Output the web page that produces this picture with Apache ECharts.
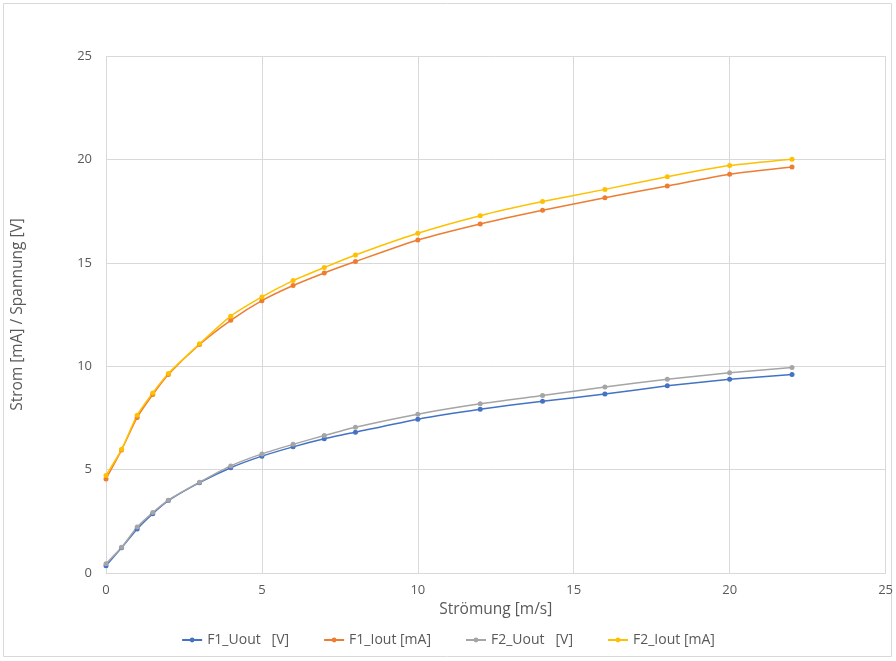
<!DOCTYPE html>
<html>
<head>
<meta charset="utf-8">
<script src="https://cdn.jsdelivr.net/npm/echarts@6/dist/echarts.min.js"></script>
<style>html,body{margin:0;padding:0;background:#fff}#c{width:896px;height:661px}</style>
</head>
<body>
<div id="c"></div>
<script>
const xValues = [0, 0.5, 1, 1.5, 2, 3, 4, 5, 6, 7, 8, 10, 12, 14, 16, 18, 20, 22];
const F1_Uout = [0.35, 1.22, 2.13, 2.87, 3.5, 4.37, 5.09, 5.65, 6.1, 6.49, 6.81, 7.44, 7.92, 8.31, 8.65, 9.05, 9.37, 9.6];
const F1_Iout = [4.55, 5.95, 7.52, 8.63, 9.6, 11.05, 12.22, 13.17, 13.9, 14.51, 15.06, 16.1, 16.88, 17.54, 18.15, 18.71, 19.28, 19.63];
const F2_Uout = [0.45, 1.24, 2.22, 2.92, 3.52, 4.39, 5.18, 5.76, 6.22, 6.65, 7.05, 7.68, 8.18, 8.58, 8.99, 9.37, 9.68, 9.94];
const F2_Iout = [4.72, 5.98, 7.63, 8.71, 9.65, 11.08, 12.42, 13.35, 14.14, 14.77, 15.38, 16.43, 17.28, 17.96, 18.55, 19.16, 19.7, 20.01];
const seriesNames = ['F1_Uout   [V]', 'F1_Iout [mA]', 'F2_Uout   [V]', 'F2_Iout [mA]'];
const seriesData = [F1_Uout, F1_Iout, F2_Uout, F2_Iout];
const colors = ['#4472C4', '#ED7D31', '#A5A5A5', '#FFC000'];

const chart = echarts.init(document.getElementById('c'));
const font = '"Open Sans", "Noto Sans", sans-serif';
chart.setOption({
  animation: false,
  color: colors,
  graphic: [{
    type: 'rect', shape: {x: 3.5, y: 3.5, width: 888, height: 653},
    style: {fill: 'none', stroke: '#d9d9d9', lineWidth: 1}, silent: true
  }],
  grid: {left: 106, right: 10, top: 56, bottom: 88, containLabel: false},
  legend: {
    top: 628, left: 'center', itemGap: 34, itemWidth: 20, itemHeight: 6,
    textStyle: {color: '#595959', fontSize: 14, fontFamily: font},
    data: seriesNames
  },
  xAxis: {
    type: 'value', min: 0, max: 25, interval: 5,
    name: 'Strömung [m/s]', nameLocation: 'middle', nameGap: 24,
    nameTextStyle: {color: '#595959', fontSize: 15.5, fontFamily: font},
    axisLine: {show: true, lineStyle: {color: '#d9d9d9'}},
    axisTick: {show: false},
    axisLabel: {color: '#595959', fontSize: 13, fontFamily: font, margin: 11},
    splitLine: {show: true, lineStyle: {color: '#d9d9d9'}}
  },
  yAxis: {
    type: 'value', min: 0, max: 25, interval: 5,
    name: 'Strom [mA] / Spannung [V]', nameLocation: 'middle', nameGap: 80,
    nameTextStyle: {color: '#595959', fontSize: 15.5, fontFamily: font},
    axisLine: {show: false}, axisTick: {show: false},
    axisLabel: {color: '#595959', fontSize: 13, fontFamily: font, margin: 14},
    splitLine: {show: true, lineStyle: {color: '#d9d9d9'}}
  },
  series: seriesNames.map((n, i) => ({
    name: n, type: 'line', smooth: 0.2,
    data: xValues.map((x, j) => [x, seriesData[i][j]]),
    symbol: 'circle', symbolSize: 5,
    lineStyle: {width: 1.5, color: colors[i]},
    itemStyle: {color: colors[i]}
  }))
});
</script>
</body>
</html>
